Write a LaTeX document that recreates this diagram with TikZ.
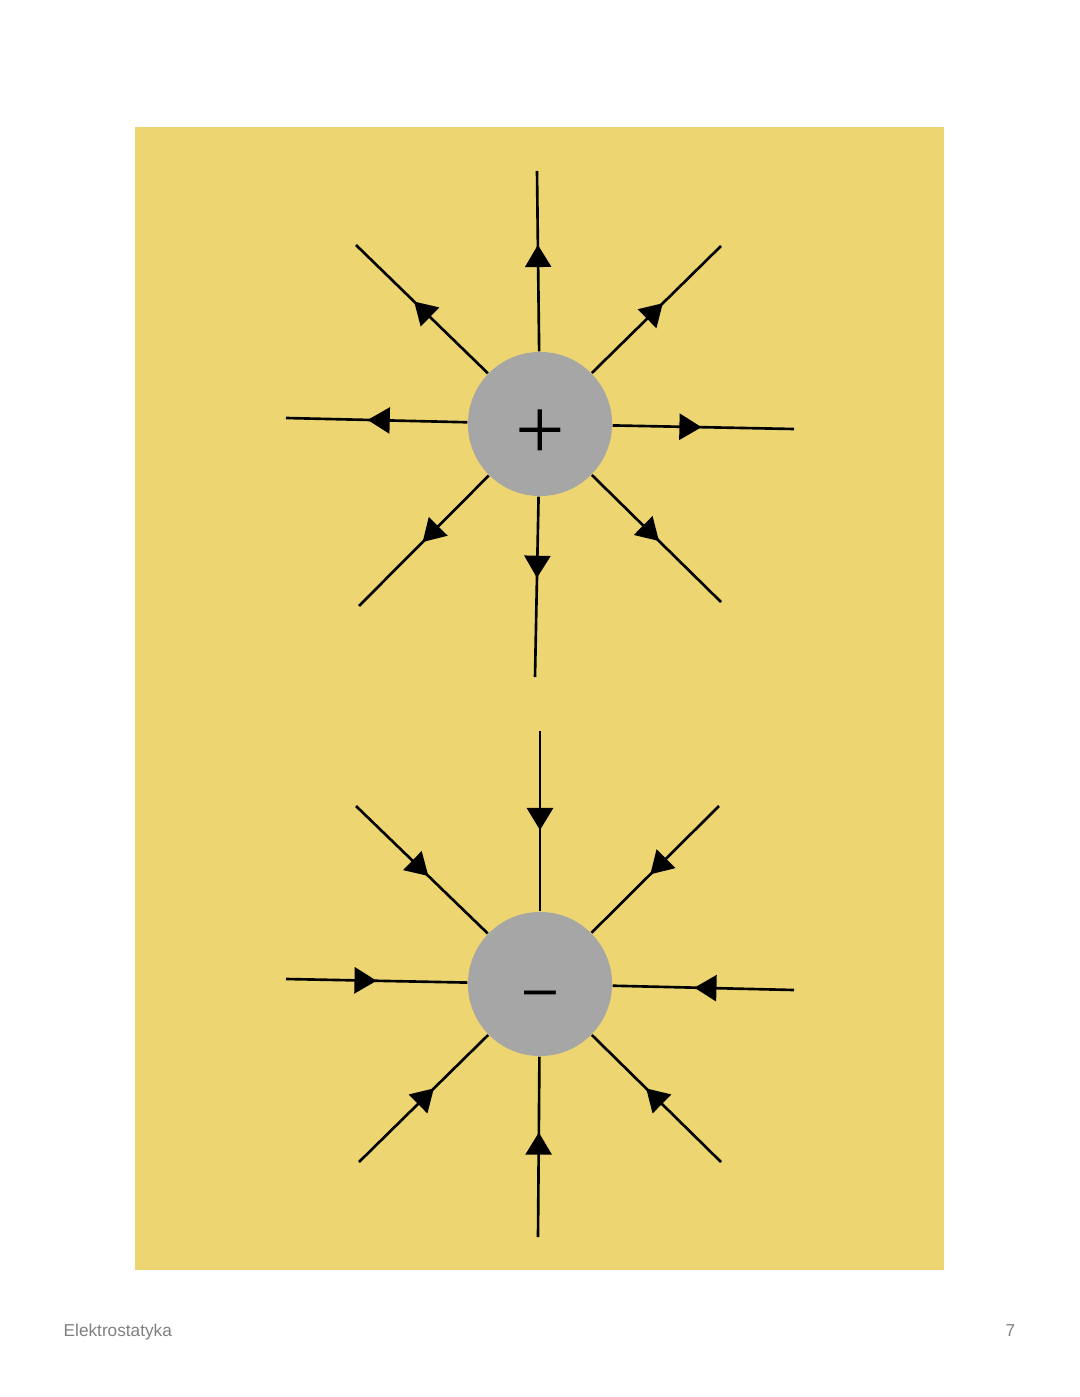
\documentclass[tikz,border=0pt]{standalone}
\usepackage{fontspec}
\setmainfont{Liberation Sans}
\newfontfamily\signfont{Liberation Serif}
\usetikzlibrary{arrows.meta,decorations.markings}
\definecolor{pageyellow}{RGB}{237,214,114}
\definecolor{chargegray}{RGB}{166,166,166}
\definecolor{footgray}{RGB}{128,128,128}
\begin{document}
\begin{tikzpicture}[
  x=0.01cm, y=-0.01cm,
  charge/.style={circle, fill=chargegray, minimum size=1.44cm, inner sep=0pt},
  field line/.style={line width=0.75pt,
    decoration={markings, mark=at position #1 with {\arrow{Triangle[length=6.3pt,width=7.4pt]}}},
    postaction=decorate},
  foot/.style={text=footgray, font=\fontsize{4.9}{6}\selectfont, inner sep=0pt},
]
  \useasboundingbox (0,0) rectangle (1080,1397);
  \fill[pageyellow] (135,127) rectangle (944,1270);

  % positive charge
  \node[charge] (pos) at (540,424) {};
  \node[font=\signfont\fontsize{25}{27}\selectfont] (plus) at (540,435) {+};
  \foreach \nm/\x/\y/\p in {pu/537/171/0.59, pur/721/246/0.55, pr/794/429/0.49,
      plr/721/602/0.52, pd/535/677/0.45, pll/359/606/0.51, pl/286/418/0.55, pul/356/245/0.56}
  {
    \coordinate (\nm) at (\x,\y);
    \draw[field line=\p] (pos) -- (\nm);
  }

  % negative charge
  \node[charge] (neg) at (540,984) {};
  \node[font=\fontsize{16.3}{18}\selectfont] (minus) at (540,999) {–};
  \foreach \nm/\x/\y/\p in {nu/540/731/0.55, nur/719/806/0.54, nr/794/990/0.55,
      nlr/721/1162/0.58, nd/538/1237/0.58, nll/359/1162/0.58, nl/286/979/0.5, nul/356/806/0.55}
  {
    \coordinate (\nm) at (\x,\y);
    \draw[field line=\p] (\nm) -- (neg);
  }

  % footer
  \node[foot, anchor=base west] (title) at (63,1336) {Elektrostatyka};
  \node[foot, anchor=base east] (page) at (1016,1336) {7};
\end{tikzpicture}
\end{document}
